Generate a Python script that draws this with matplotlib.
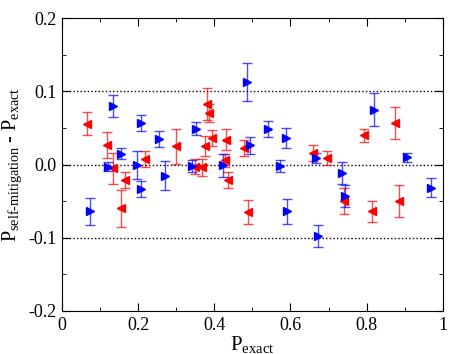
import numpy as np
import matplotlib
matplotlib.use('Agg')
import matplotlib.pyplot as plt
from matplotlib.ticker import MultipleLocator

plt.rcParams['font.family'] = 'Liberation Serif'
plt.rcParams['mathtext.fontset'] = 'custom'
plt.rcParams['mathtext.rm'] = 'Liberation Serif'
plt.rcParams['mathtext.it'] = 'Liberation Serif:italic'

# blue series (right triangles)
blue_x = [0.074, 0.122, 0.133, 0.156, 0.197, 0.208, 0.208, 0.256, 0.270, 0.342,
          0.353, 0.423, 0.486, 0.493, 0.541, 0.572, 0.587, 0.591, 0.667, 0.672,
          0.736, 0.744, 0.818, 0.907, 0.968]
blue_y = [-0.064, -0.003, 0.080, 0.015, -0.001, 0.057, -0.034, 0.035, -0.015, -0.002,
          0.049, -0.001, 0.113, 0.026, 0.048, -0.002, 0.036, -0.064, 0.009, -0.098,
          -0.011, -0.043, 0.075, 0.010, -0.032]
blue_err = [0.018, 0.006, 0.015, 0.008, 0.019, 0.011, 0.011, 0.011, 0.020, 0.008,
            0.009, 0.016, 0.026, 0.011, 0.011, 0.008, 0.014, 0.017, 0.007, 0.015,
            0.015, 0.015, 0.022, 0.006, 0.013]

# red series (left triangles)
red_x = [0.066, 0.118, 0.133, 0.155, 0.166, 0.219, 0.300, 0.350, 0.368, 0.375,
         0.382, 0.386, 0.393, 0.430, 0.428, 0.436, 0.477, 0.488, 0.660, 0.697,
         0.740, 0.794, 0.813, 0.875, 0.886]
red_y = [0.056, 0.027, -0.005, -0.060, -0.021, 0.008, 0.025, -0.003, -0.004, 0.025,
         0.083, 0.070, 0.036, 0.034, 0.006, -0.021, 0.023, -0.065, 0.016, 0.009,
         -0.050, 0.040, -0.064, 0.057, -0.050]
red_err = [0.016, 0.018, 0.021, 0.025, 0.011, 0.011, 0.024, 0.010, 0.012, 0.014,
           0.022, 0.012, 0.011, 0.014, 0.009, 0.011, 0.011, 0.016, 0.011, 0.009,
           0.018, 0.009, 0.014, 0.022, 0.022]

fig = plt.figure(figsize=(4.58, 3.54), dpi=100)
ax = fig.add_axes([0.135, 0.1215, 0.832, 0.8275])

for yy in [0.1, 0.0, -0.1]:
    ax.axhline(yy, color='black', ls=(0, (1, 1.6)), lw=1.0, zorder=1)

ax.errorbar(red_x, red_y, yerr=red_err, fmt='none', ecolor='red', elinewidth=1.0,
            capsize=3.5, capthick=1.0, alpha=0.7, zorder=2)
ax.plot(red_x, red_y, '<', color='red', ms=6, mec='red', zorder=3)

ax.errorbar(blue_x, blue_y, yerr=blue_err, fmt='none', ecolor='blue', elinewidth=1.0,
            capsize=3.5, capthick=1.0, alpha=0.7, zorder=2)
ax.plot(blue_x, blue_y, '>', color='blue', ms=6, mec='blue', zorder=3)

ax.set_xlim(0, 1)
ax.set_ylim(-0.2, 0.2)
ax.xaxis.set_major_locator(MultipleLocator(0.2))
ax.xaxis.set_minor_locator(MultipleLocator(0.1))
ax.yaxis.set_major_locator(MultipleLocator(0.1))
ax.yaxis.set_minor_locator(MultipleLocator(0.05))
ax.set_xticks([0, 0.2, 0.4, 0.6, 0.8, 1.0])
ax.set_xticklabels(['0', '0.2', '0.4', '0.6', '0.8', '1'])
ax.set_yticks([-0.2, -0.1, 0.0, 0.1, 0.2])
ax.set_yticklabels(['-0.2', '-0.1', '0.0', '0.1', '0.2'])
ax.tick_params(which='both', direction='in', top=True, right=True, labelsize=13, pad=4)
ax.tick_params(which='major', length=6)
ax.tick_params(which='minor', length=3)

ax.set_xlabel(r'P$_{\mathrm{exact}}$', fontsize=15, labelpad=0)
ax.set_ylabel(r'P$_{\mathrm{self\text{-}mitigation}}$ - P$_{\mathrm{exact}}$', fontsize=14.5, labelpad=3)

fig.savefig('out.png', dpi=100)
